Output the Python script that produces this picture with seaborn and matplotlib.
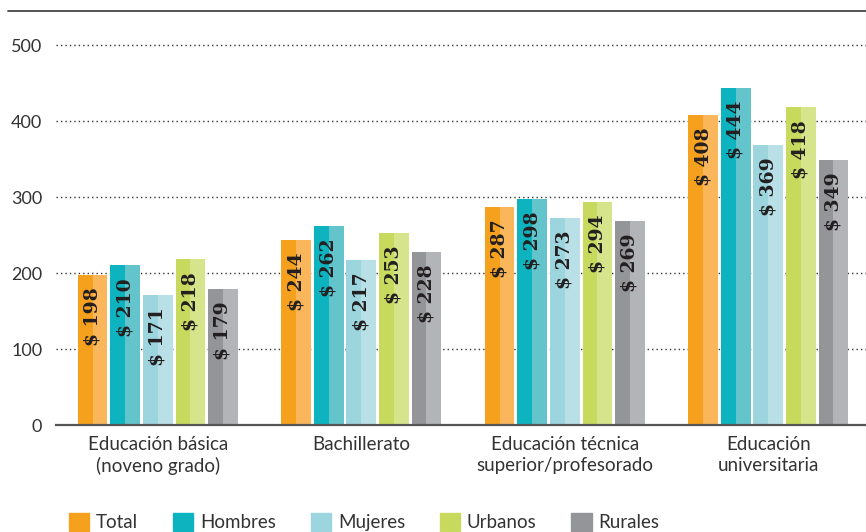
import pandas as pd
import matplotlib.pyplot as plt
import matplotlib.patches as mpatches
from matplotlib.lines import Line2D
import seaborn as sns

# data
categories = ['Educación básica\n(noveno grado)', 'Bachillerato',
              'Educación técnica\nsuperior/profesorado', 'Educación\nuniversitaria']
groups = ['Total', 'Hombres', 'Mujeres', 'Urbanos', 'Rurales']
total = [198, 244, 287, 408]
hombres = [210, 262, 298, 444]
mujeres = [171, 217, 273, 369]
urbanos = [218, 253, 294, 418]
rurales = [179, 228, 269, 349]

dark = ['#F5A11E', '#0DB4BF', '#9DD5DF', '#C8DA5E', '#939598']
light = ['#F9B65B', '#63C4CC', '#B9E0E7', '#D6E58C', '#B2B4B7']

rows = []
for g, vals in zip(groups, [total, hombres, mujeres, urbanos, rurales]):
    for c, v in zip(categories, vals):
        rows.append({'cat': c, 'grupo': g, 'valor': v})
df = pd.DataFrame(rows)

sns.set_style('white')
plt.rcParams['font.family'] = ['Lato', 'DejaVu Sans']

fig = plt.figure(figsize=(8.66, 5.32), dpi=100)
ax = fig.add_axes([0.0647, 0.2011, 0.9353, 0.7782])

sns.barplot(data=df, x='cat', y='valor', hue='grupo', order=categories,
            hue_order=groups, palette=dark, width=0.8, gap=0.09,
            saturation=1, legend=False, ax=ax)

# split each bar: darker left half, lighter right half, then the value label
for container, lc in zip(ax.containers, light):
    for p in container.patches:
        x, w, h = p.get_x(), p.get_width(), p.get_height()
        p.set_width(w / 2)
        p.set_linewidth(0)
        ax.add_patch(mpatches.Rectangle((x + w / 2, 0), w / 2, h,
                                        facecolor=lc, lw=0, zorder=p.get_zorder()))
        ax.annotate(f'$ {h:.0f}', (x + w / 2, h), xytext=(0, -9),
                    textcoords='offset points', rotation=90, ha='center',
                    va='top', fontsize=13.5, fontweight='bold',
                    family='DejaVu Serif', color='#231F20', zorder=5)

ax.set_xlim(-0.5, 3.48)
ax.set_ylim(0, 545)
ax.set_yticks([0, 100, 200, 300, 400, 500])
for yv in [100, 200, 300, 400, 500]:
    ax.axhline(yv, color='#333333', lw=1, ls=(0, (1, 2.2)), zorder=0)
ax.set_xlabel('')
ax.set_ylabel('')
ax.tick_params(axis='both', length=0, colors='#333333')
ax.tick_params(axis='y', pad=10, labelsize=13)
ax.tick_params(axis='x', pad=8, labelsize=13.5)
for lab in ax.get_xticklabels():
    lab.set_linespacing(1.25)
for s in ['top', 'right', 'left']:
    ax.spines[s].set_visible(False)
ax.spines['bottom'].set_color('#555555')
ax.spines['bottom'].set_linewidth(1.6)

# top rule across the figure
fig.add_artist(Line2D([0.009, 1.0], [0.979, 0.979], color='#444444', lw=1.3))

handles = [mpatches.Patch(color=c, label=g) for c, g in zip(dark, groups)]
fig.legend(handles=handles, loc='lower left', bbox_to_anchor=(0.06, -0.03),
           ncol=5, frameon=False, fontsize=13.5, handlelength=1.1,
           handleheight=1.1, handletextpad=0.35, columnspacing=1.85,
           labelcolor='#333333')

fig.savefig('out.png', dpi=100)
